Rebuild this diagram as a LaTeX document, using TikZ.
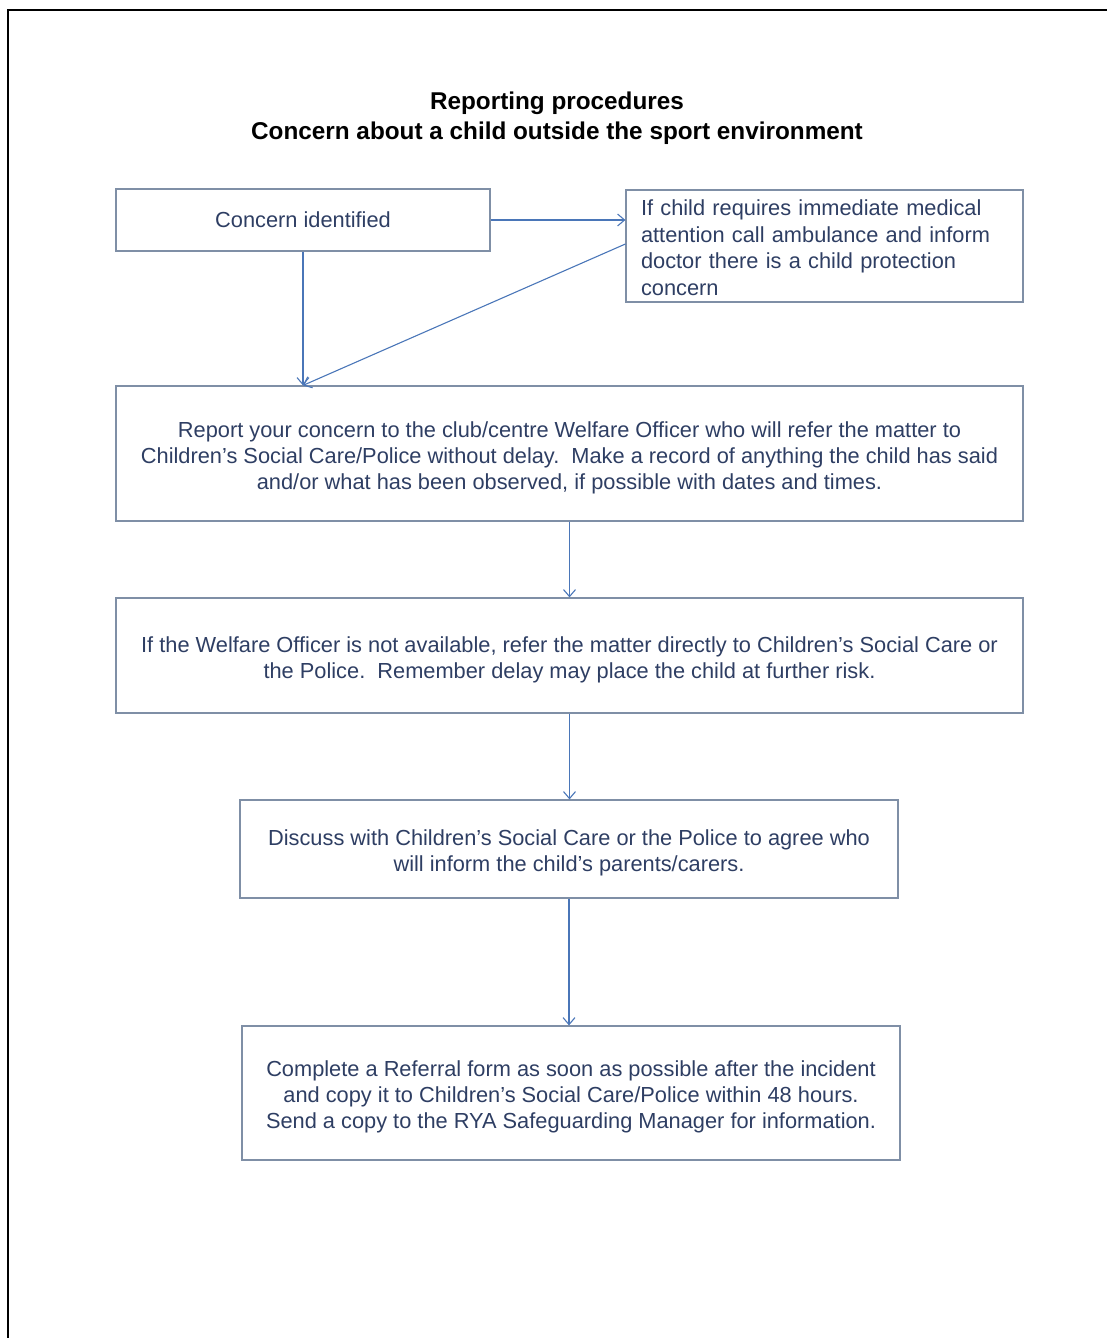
\documentclass[tikz,border=0pt]{standalone}
\usepackage{fontspec}
\setmainfont{Liberation Sans}
\usetikzlibrary{arrows.meta}

\definecolor{boxline}{HTML}{7F8FA6}
\definecolor{textblue}{HTML}{2E3E63}
\definecolor{arrowblue}{HTML}{4A76B8}
\newcommand{\toppad}{\rule{0pt}{24pt}}

\begin{document}
\begin{tikzpicture}[x=1pt, y=-1pt, >={Straight Barb[length=7pt, width=12pt]},
	stepbox/.style={draw=boxline, line width=1.2pt, text=textblue, align=center, font=\fontsize{21.8}{26.2}\selectfont, inner sep=0pt},
	link/.style={->, draw=arrowblue, line width=1.1pt}]
	\useasboundingbox (0,0) rectangle (1106,1338);
	\draw[line width=2pt] (8,1340) -- (8,10) -- (1108,10);
	\node[font=\bfseries\fontsize{24.3}{30}\selectfont, align=center] (title) at (557,118) {Reporting procedures\\Concern about a child outside the sport environment};
	\node[stepbox, minimum width=374, minimum height=62] (concern) at (303,220) {Concern identified};
	\node[stepbox, minimum width=397, minimum height=112, align=left, text width=367, inner xsep=15, font=\fontsize{21.8}{26.6}\selectfont] (medical) at (824.5,246) {\rule{0pt}{19pt}If child requires immediate medical\\attention call ambulance and inform\\doctor there is a child protection\\concern};
	\node[stepbox, minimum width=907, minimum height=135] (report) at (569.5,453.5) {\toppad Report your concern to the club/centre Welfare Officer who will refer the matter to\\Children's Social Care/Police without delay.\ \ Make a record of anything the child has said\\and/or what has been observed, if possible with dates and times.};
	\node[stepbox, minimum width=907, minimum height=115] (officer) at (569.5,655.5) {\toppad If the Welfare Officer is not available, refer the matter directly to Children's Social Care or\\the Police.\ \ Remember delay may place the child at further risk.};
	\node[stepbox, minimum width=658, minimum height=98] (discuss) at (569,849) {\toppad Discuss with Children's Social Care or the Police to agree who\\will inform the child's parents/carers.};
	\node[stepbox, minimum width=658, minimum height=134] (referral) at (571,1093) {\toppad Complete a Referral form as soon as possible after the incident\\and copy it to Children's Social Care/Police within 48 hours.\\Send a copy to the RYA Safeguarding Manager for information.};
	\coordinate (join) at (concern.south |- report.north);
	\draw[link] (concern.east) -- (concern.east -| medical.west);
	\draw[link] (concern.south) -- (join);
	\draw[link] ([yshift=2]medical.west) -- (join);
	\draw[link] (report.south) -- (officer.north);
	\draw[link] (officer.south) -- (officer.south |- discuss.north);
	\draw[link] (discuss.south) -- (discuss.south |- referral.north);
\end{tikzpicture}
\end{document}
